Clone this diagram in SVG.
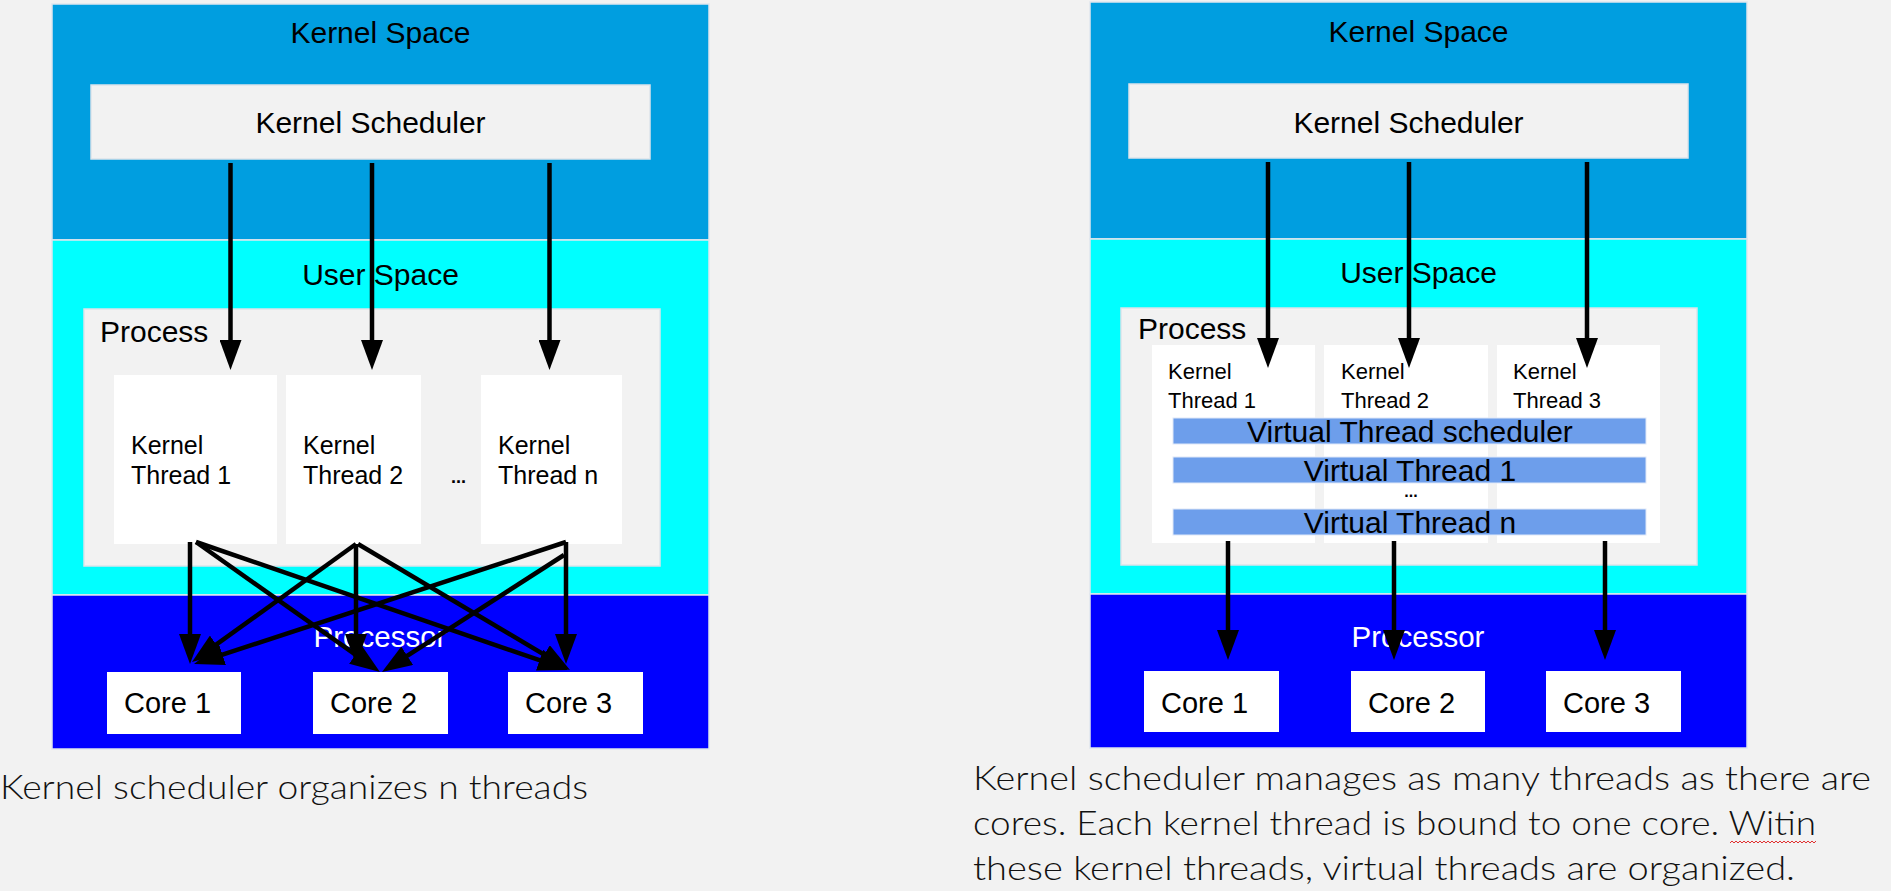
<svg xmlns="http://www.w3.org/2000/svg" width="1891" height="891" viewBox="0 0 1891 891">
<defs>
<marker id="ah" markerUnits="userSpaceOnUse" markerWidth="30" markerHeight="22" viewBox="0 0 30 22" refX="20" refY="11" orient="auto">
<path d="M0,0 L30,11 L0,22 z" fill="#000"/>
</marker>
</defs>
<style>
.lbl{font-family:"Liberation Sans",Arial,sans-serif;fill:#000}
.big{font-size:30px;text-anchor:middle}
.core{font-size:29px}
.thr{font-size:25px}
.thr2{font-size:22px}
.vt{font-size:30px;text-anchor:middle}
.proc{font-size:29.5px;text-anchor:middle;fill:#fff}
.ks{fill:#009EE0;stroke:#dfe6ee;stroke-width:1.5}
.us{fill:#00FFFF;stroke:#dfe6ee;stroke-width:1.5}
.ps{fill:#0000FF;stroke:#dfe6ee;stroke-width:1.5}
.gray{fill:#F2F2F2;stroke:#dde3ea;stroke-width:1.5}
.white{fill:#FFFFFF}
.bar{fill:#6D9EEB;stroke:#dfe8f8;stroke-width:1}
.cap{font-family:Lato,"Noto Sans",sans-serif;font-weight:300;font-size:33px;fill:#111}
.c{stroke:#000;stroke-width:4.5;fill:none;marker-end:url(#ah)}
</style>
<rect x="0" y="0" width="1891" height="891" fill="#F2F2F2"/>

<!-- LEFT PANEL -->
<g id="left-kernel-space">
<rect class="ks" x="52" y="4" width="657" height="236"/>
<text class="lbl big" x="380.5" y="43">Kernel Space</text>
</g>
<g id="left-user-space">
<rect class="us" x="52" y="240" width="657" height="355"/>
<text class="lbl big" x="380.5" y="285">User Space</text>
</g>
<g id="left-processor">
<rect class="ps" x="52" y="595" width="657" height="154"/>
<text class="lbl proc" x="380" y="647">Processor</text>
</g>
<g id="left-kernel-scheduler">
<rect class="gray" x="91" y="85" width="559" height="74"/>
<text class="lbl big" x="370.5" y="133">Kernel Scheduler</text>
</g>
<g id="left-process">
<rect class="gray" x="84" y="309" width="576" height="257"/>
<text class="lbl" font-size="30" x="100" y="342">Process</text>
</g>
<g id="left-kt1">
<rect class="white" x="114" y="375" width="163" height="169"/>
<text class="lbl thr" x="131" y="454">Kernel</text>
<text class="lbl thr" x="131" y="484">Thread 1</text>
</g>
<g id="left-kt2">
<rect class="white" x="286" y="375" width="135" height="169"/>
<text class="lbl thr" x="303" y="454">Kernel</text>
<text class="lbl thr" x="303" y="484">Thread 2</text>
</g>
<g id="left-dots">
<text class="lbl" font-size="18" font-weight="bold" x="451" y="483">...</text>
</g>
<g id="left-ktn">
<rect class="white" x="481" y="375" width="141" height="169"/>
<text class="lbl thr" x="498" y="454">Kernel</text>
<text class="lbl thr" x="498" y="484">Thread n</text>
</g>
<g id="left-core1">
<rect class="white" x="107" y="672" width="134" height="62"/>
<text class="lbl core" x="124" y="713">Core 1</text>
</g>
<g id="left-core2">
<rect class="white" x="313" y="672" width="135" height="62"/>
<text class="lbl core" x="330" y="713">Core 2</text>
</g>
<g id="left-core3">
<rect class="white" x="508" y="672" width="135" height="62"/>
<text class="lbl core" x="525" y="713">Core 3</text>
</g>

<!-- RIGHT PANEL -->
<g id="right-kernel-space">
<rect class="ks" x="1090" y="2" width="657" height="237"/>
<text class="lbl big" x="1418.5" y="42">Kernel Space</text>
</g>
<g id="right-user-space">
<rect class="us" x="1090" y="239" width="657" height="355"/>
<text class="lbl big" x="1418.5" y="283">User Space</text>
</g>
<g id="right-processor">
<rect class="ps" x="1090" y="594" width="657" height="154"/>
<text class="lbl proc" x="1418" y="647">Processor</text>
</g>
<g id="right-kernel-scheduler">
<rect class="gray" x="1129" y="84" width="559" height="74"/>
<text class="lbl big" x="1408.5" y="133">Kernel Scheduler</text>
</g>
<g id="right-process">
<rect class="gray" x="1121" y="308" width="576" height="257"/>
<text class="lbl" font-size="30" x="1138" y="339">Process</text>
</g>
<g id="right-kt1">
<rect class="white" x="1152" y="345" width="163" height="198"/>
<text class="lbl thr2" x="1168" y="379">Kernel</text>
<text class="lbl thr2" x="1168" y="408">Thread 1</text>
</g>
<g id="right-kt2">
<rect class="white" x="1324" y="345" width="164" height="198"/>
<text class="lbl thr2" x="1341" y="379">Kernel</text>
<text class="lbl thr2" x="1341" y="408">Thread 2</text>
</g>
<g id="right-kt3">
<rect class="white" x="1497" y="345" width="163" height="198"/>
<text class="lbl thr2" x="1513" y="379">Kernel</text>
<text class="lbl thr2" x="1513" y="408">Thread 3</text>
</g>
<g id="right-vt-scheduler">
<rect class="bar" x="1173" y="418" width="473" height="26"/>
<text class="lbl vt" x="1410" y="442">Virtual Thread scheduler</text>
</g>
<g id="right-vt1">
<rect class="bar" x="1173" y="457" width="473" height="26"/>
<text class="lbl vt" x="1410" y="481">Virtual Thread 1</text>
</g>
<g id="right-vt-dots">
<text class="lbl" font-size="16" font-weight="bold" text-anchor="middle" x="1411" y="497">...</text>
</g>
<g id="right-vtn">
<rect class="bar" x="1173" y="509" width="473" height="26"/>
<text class="lbl vt" x="1410" y="533">Virtual Thread n</text>
</g>
<g id="right-core1">
<rect class="white" x="1144" y="671" width="135" height="61"/>
<text class="lbl core" x="1161" y="713">Core 1</text>
</g>
<g id="right-core2">
<rect class="white" x="1351" y="671" width="134" height="61"/>
<text class="lbl core" x="1368" y="713">Core 2</text>
</g>
<g id="right-core3">
<rect class="white" x="1546" y="671" width="135" height="61"/>
<text class="lbl core" x="1563" y="713">Core 3</text>
</g>

<!-- CONNECTORS -->
<g id="connectors">
<line class="c" x1="230.5" y1="163" x2="230.5" y2="360"/>
<line class="c" x1="372" y1="163" x2="372" y2="360"/>
<line class="c" x1="549.5" y1="163" x2="549.5" y2="360"/>

<line class="c" x1="190" y1="542" x2="190" y2="654"/>
<line class="c" x1="196" y1="542" x2="371.8" y2="666.2"/>
<line class="c" x1="196" y1="542" x2="558.5" y2="666.7"/>
<line class="c" x1="356" y1="544" x2="356" y2="654"/>
<line class="c" x1="356" y1="544" x2="200.1" y2="656.2"/>
<line class="c" x1="358" y1="544" x2="561.4" y2="664.9"/>
<line class="c" x1="566" y1="542" x2="566" y2="654"/>
<line class="c" x1="566" y1="542" x2="203.5" y2="660.9"/>
<line class="c" x1="564" y1="555" x2="390.4" y2="666.6"/>

<line class="c" x1="1268" y1="162" x2="1268" y2="358"/>
<line class="c" x1="1409" y1="162" x2="1409" y2="358"/>
<line class="c" x1="1587" y1="162" x2="1587" y2="358"/>

<line class="c" x1="1228" y1="541" x2="1228" y2="650"/>
<line class="c" x1="1394" y1="541" x2="1394" y2="650"/>
<line class="c" x1="1605" y1="541" x2="1605" y2="650"/>
</g>

<!-- CAPTIONS -->
<g id="captions">
<text class="cap" x="0" y="799" textLength="588" lengthAdjust="spacingAndGlyphs">Kernel scheduler organizes n threads</text>
<text class="cap" x="973" y="790" textLength="898" lengthAdjust="spacingAndGlyphs">Kernel scheduler manages as many threads as there are</text>
<text class="cap" x="973" y="835" textLength="843" lengthAdjust="spacingAndGlyphs">cores. Each kernel thread is bound to one core. Witin</text>
<text class="cap" x="973" y="880" textLength="822" lengthAdjust="spacingAndGlyphs">these kernel threads, virtual threads are organized.</text>
<path d="M1730,843 l2,-2 l2,2 l2,-2 l2,2 l2,-2 l2,2 l2,-2 l2,2 l2,-2 l2,2 l2,-2 l2,2 l2,-2 l2,2 l2,-2 l2,2 l2,-2 l2,2 l2,-2 l2,2 l2,-2 l2,2 l2,-2 l2,2 l2,-2 l2,2 l2,-2 l2,2 l2,-2 l2,2 l2,-2 l2,2 l2,-2 l2,2 l2,-2 l2,2 l2,-2 l2,2 l2,-2 l2,2 l2,-2 l2,2 l2,-2" fill="none" stroke="#e03030" stroke-width="1"/>
</g>
</svg>
